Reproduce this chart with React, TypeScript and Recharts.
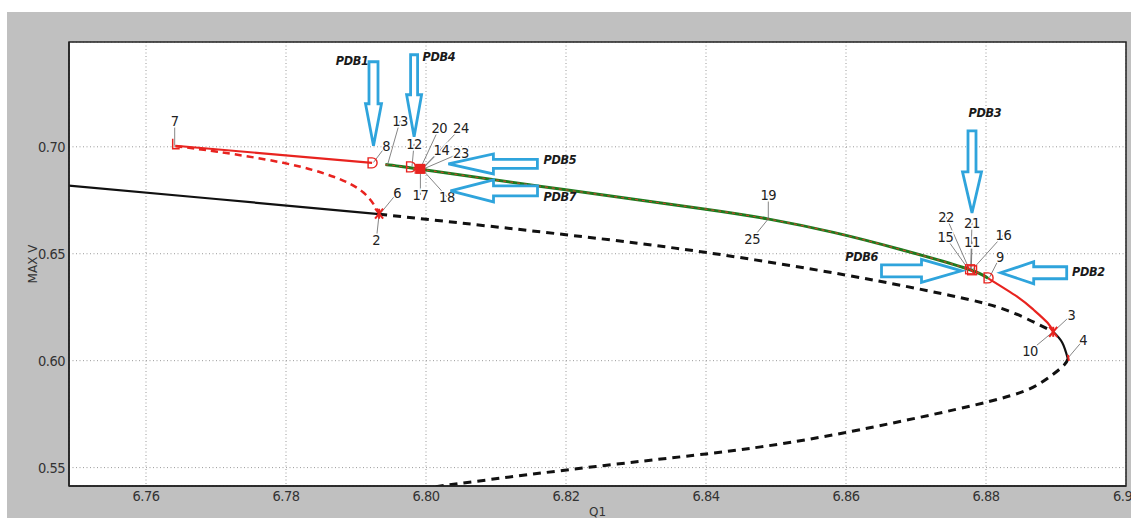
import React from 'react';
import {
  ComposedChart, Line, Scatter, XAxis, YAxis, CartesianGrid,
  ReferenceDot, ReferenceLine, ReferenceArea,
} from 'recharts';

// axes
const xTicks = [6.76, 6.78, 6.8, 6.82, 6.84, 6.86, 6.88, 6.9];
const xTickLabels = ['6.76', '6.78', '6.80', '6.82', '6.84', '6.86', '6.88', '6.9'];
const yTicks = [0.55, 0.6, 0.65, 0.7];
const yTickLabels = ['0.55', '0.60', '0.65', '0.70'];
const xDomain = [6.749, 6.9];
const yDomain = [0.5414, 0.749];

// branches (Q1, MAX V)
const blackSolidUpper = [
  { x: 6.745, y: 0.683 }, { x: 6.77, y: 0.6756 }, { x: 6.7933, y: 0.6685 },
];
const blackDashedUpper = [
  { x: 6.7933, y: 0.6685 }, { x: 6.8197, y: 0.659 }, { x: 6.8402, y: 0.6505 },
  { x: 6.86, y: 0.64 }, { x: 6.8749, y: 0.6305 }, { x: 6.883, y: 0.6235 },
  { x: 6.8896, y: 0.6135 },
];
const blackSolidNose = [
  { x: 6.8896, y: 0.6135 }, { x: 6.8909, y: 0.6084 }, { x: 6.8917, y: 0.6008 },
];
const blackDashedLower = [
  { x: 6.8917, y: 0.6008 }, { x: 6.8909, y: 0.5971 }, { x: 6.8878, y: 0.5896 },
  { x: 6.8802, y: 0.5807 }, { x: 6.8596, y: 0.5662 }, { x: 6.8478, y: 0.5597 },
  { x: 6.84, y: 0.5564 }, { x: 6.8201, y: 0.5489 }, { x: 6.8, y: 0.5405 },
];
const redDashed = [
  { x: 6.7642, y: 0.7003 }, { x: 6.7702, y: 0.6977 }, { x: 6.7796, y: 0.6925 },
  { x: 6.7868, y: 0.686 }, { x: 6.7911, y: 0.6785 }, { x: 6.7933, y: 0.669 },
];
const redSolidLeft = [{ x: 6.7642, y: 0.7005 }, { x: 6.7923, y: 0.6925 }];
const greenBranch = [
  { x: 6.7942, y: 0.6917 }, { x: 6.7992, y: 0.6895 }, { x: 6.8197, y: 0.68 },
  { x: 6.8392, y: 0.6712 }, { x: 6.8488, y: 0.6663 }, { x: 6.8582, y: 0.66 },
  { x: 6.8678, y: 0.652 }, { x: 6.8773, y: 0.643 }, { x: 6.8803, y: 0.6385 },
];
const redSolidRight = [
  { x: 6.8803, y: 0.6385 }, { x: 6.8845, y: 0.6298 }, { x: 6.8868, y: 0.6238 },
  { x: 6.8888, y: 0.6177 }, { x: 6.8896, y: 0.6135 },
];

// special points
const specialPoints = [
  { x: 6.7641, y: 0.7005, kind: 'L' },
  { x: 6.7923, y: 0.6925, kind: 'D' },
  { x: 6.7978, y: 0.6906, kind: 'D' },
  { x: 6.7992, y: 0.6897, kind: 'sq' },
  { x: 6.7933, y: 0.6687, kind: 'X' },
  { x: 6.8778, y: 0.6425, kind: 'cluster' },
  { x: 6.8803, y: 0.6387, kind: 'D' },
  { x: 6.8896, y: 0.6135, kind: 'X' },
  { x: 6.8917, y: 0.6008, kind: 'tick' },
];

// numbered labels: point, label position
const pointLabels = [
  { t: '7', px: 6.7641, py: 0.7005, lx: 6.7641, ly: 0.7122 },
  { t: '8', px: 6.7925, py: 0.6927, lx: 6.7943, ly: 0.7005 },
  { t: '13', px: 6.7945, py: 0.6915, lx: 6.7963, ly: 0.7122 },
  { t: '12', px: 6.798, py: 0.6908, lx: 6.7983, ly: 0.7014 },
  { t: '20', px: 6.7992, py: 0.6899, lx: 6.8019, ly: 0.7089 },
  { t: '24', px: 6.7995, py: 0.6899, lx: 6.805, ly: 0.7089 },
  { t: '14', px: 6.7995, py: 0.6897, lx: 6.8022, ly: 0.6986 },
  { t: '23', px: 6.7996, py: 0.6896, lx: 6.805, ly: 0.6972 },
  { t: '17', px: 6.7992, py: 0.6893, lx: 6.7992, ly: 0.6775 },
  { t: '18', px: 6.7995, py: 0.6893, lx: 6.803, ly: 0.6766 },
  { t: '6', px: 6.7935, py: 0.6689, lx: 6.7959, ly: 0.6785 },
  { t: '2', px: 6.7933, py: 0.6684, lx: 6.7929, ly: 0.6565 },
  { t: '19', px: 6.8489, py: 0.6663, lx: 6.8489, ly: 0.6775 },
  { t: '25', px: 6.8489, py: 0.6663, lx: 6.8466, ly: 0.657 },
  { t: '22', px: 6.8776, py: 0.6428, lx: 6.8743, ly: 0.6673 },
  { t: '21', px: 6.8778, py: 0.6428, lx: 6.878, ly: 0.6645 },
  { t: '15', px: 6.8775, py: 0.6427, lx: 6.8742, ly: 0.6579 },
  { t: '11', px: 6.8779, py: 0.6428, lx: 6.878, ly: 0.6556 },
  { t: '16', px: 6.8781, py: 0.6428, lx: 6.8825, ly: 0.6588 },
  { t: '9', px: 6.8805, py: 0.6389, lx: 6.882, ly: 0.6486 },
  { t: '3', px: 6.8896, py: 0.6135, lx: 6.8922, ly: 0.6214 },
  { t: '10', px: 6.8895, py: 0.6133, lx: 6.8863, ly: 0.6046 },
  { t: '4', px: 6.8917, py: 0.6012, lx: 6.8939, ly: 0.6097 },
];

// PDB arrows: tip position, direction
const pdbArrows = [
  { name: 'PDB1', x: 6.7925, y: 0.7005, dir: 'down', lx: 6.7871, ly: 0.7402 },
  { name: 'PDB4', x: 6.7983, y: 0.7047, dir: 'down', lx: 6.7995, ly: 0.7421 },
  { name: 'PDB5', x: 6.8032, y: 0.692, dir: 'left', lx: 6.8168, ly: 0.6939 },
  { name: 'PDB7', x: 6.8035, y: 0.6794, dir: 'left', lx: 6.8168, ly: 0.6766 },
  { name: 'PDB3', x: 6.878, y: 0.6691, dir: 'down', lx: 6.8775, ly: 0.7159 },
  { name: 'PDB6', x: 6.8765, y: 0.642, dir: 'right', lx: 6.8599, ly: 0.6486 },
  { name: 'PDB2', x: 6.8821, y: 0.6411, dir: 'left', lx: 6.8923, ly: 0.6415 },
];
// arrow geometry in pixels: length, head length, head half width, shaft half width
const arrowSize: Record<string, number[]> = {
  PDB1: [84, 42, 8, 4.5],
  PDB4: [82, 42, 7.5, 3.5],
  PDB5: [89, 45, 10, 4.5],
  PDB7: [87, 43, 11, 5],
  PDB3: [82, 41, 9.5, 4],
  PDB6: [80, 40, 11.5, 6],
  PDB2: [66, 33, 11, 6],
};

const NARROW = '"Liberation Sans Narrow", "DejaVu Sans Condensed", "Open Sans", sans-serif';
const RED = '#e8231f';
const ARROW = '#2fa4dc';

function Marker(props: any) {
  const { cx, cy, payload } = props;
  const k = payload.kind;
  if (k === 'L') {
    return <path d={`M${cx - 2},${cy - 7} L${cx - 2},${cy + 3} L${cx + 5},${cy + 3}`} stroke={RED} strokeWidth={1.5} fill="none" />;
  }
  if (k === 'D') {
    return <path d={`M${cx - 4},${cy - 5} L${cx},${cy - 5} A5 5 0 0 1 ${cx},${cy + 5} L${cx - 4},${cy + 5} Z`} stroke={RED} strokeWidth={1.4} fill="none" />;
  }
  if (k === 'sq') {
    return (
      <g>
        <rect x={cx - 5} y={cy - 5} width={10} height={10} fill={RED} />
        <rect x={cx - 6} y={cy - 4} width={10} height={9} fill={RED} opacity={0.7} />
      </g>
    );
  }
  if (k === 'X') {
    return (
      <g stroke={RED} strokeWidth={2}>
        <line x1={cx - 4} y1={cy - 5} x2={cx + 4} y2={cy + 5} />
        <line x1={cx + 4} y1={cy - 5} x2={cx - 4} y2={cy + 5} />
        <line x1={cx} y1={cy - 5} x2={cx} y2={cy + 5} />
      </g>
    );
  }
  if (k === 'cluster') {
    return (
      <g stroke={RED} strokeWidth={1.3} fill="none">
        <rect x={cx - 5} y={cy - 5} width={9} height={9} />
        <rect x={cx - 3} y={cy - 4} width={9} height={9} />
        <line x1={cx - 4} y1={cy - 4} x2={cx + 5} y2={cy + 5} />
      </g>
    );
  }
  return <line x1={cx} y1={cy - 4} x2={cx + 1} y2={cy + 2} stroke={RED} strokeWidth={2} />;
}

function arrowShape(name: string, dir: string) {
  return (p: any) => {
    const { cx, cy } = p;
    const [L, H, hw, sw] = arrowSize[name];
    // build pointing right, then rotate
    const pts = [
      [-L, -sw], [-H, -sw], [-H, -hw], [0, 0], [-H, hw], [-H, sw], [-L, sw],
    ];
    const rot = dir === 'down' ? 90 : dir === 'left' ? 180 : 0;
    return (
      <polygon
        points={pts.map((q) => q.join(',')).join(' ')}
        transform={`translate(${cx},${cy}) rotate(${rot})`}
        fill="#fff"
        stroke={ARROW}
        strokeWidth={2.8}
        strokeLinejoin="miter"
      />
    );
  };
}

const numText = (t: string) => (p: any) => (
  <text
    x={p.cx} y={p.cy} dy="0.35em" textAnchor="middle"
    fontFamily={NARROW} fontSize={14.5} letterSpacing={-0.4} fill="#222"
    stroke="#fff" strokeWidth={3} paintOrder="stroke"
  >{t}</text>
);

const pdbText = (t: string) => (p: any) => (
  <text
    x={p.cx} y={p.cy} dy="0.35em" textAnchor="start"
    fontFamily={NARROW} fontSize={12.5} fontWeight="bold" fontStyle="italic" fill="#1a1a1a"
    letterSpacing={-0.3}
  >{t}</text>
);

const tickStyle = { fill: '#333', fontSize: 14.5, fontFamily: NARROW, letterSpacing: -0.5 };

export default function App() {
  return (
    <div style={{ position: 'fixed', left: 0, top: 0, width: 1131, height: 518, background: '#fff', overflow: 'hidden' }}>
      <div style={{ position: 'absolute', left: 7, top: 12, width: 1124, height: 520, background: '#c0c0c0' }}>
        <ComposedChart width={1124} height={540} margin={{ top: 30, right: 5, left: 0, bottom: 26 }}>
          <CartesianGrid fill="#fff" stroke="#9a9a9a" strokeDasharray="1 2.5" />
          <XAxis
            dataKey="x" type="number" domain={xDomain} allowDataOverflow
            ticks={xTicks} tickFormatter={(v: number, i: number) => xTickLabels[i] ?? String(v)}
            height={40} tickSize={3} tickLine={false}
            axisLine={{ stroke: '#222', strokeWidth: 1.5 }}
            tick={tickStyle}
            label={{ value: 'Q1', position: 'insideBottom', offset: 10, fill: '#333', fontSize: 12, fontFamily: 'DejaVu Sans, sans-serif' }}
          />
          <YAxis
            type="number" domain={yDomain} allowDataOverflow
            ticks={yTicks} tickFormatter={(v: number, i: number) => yTickLabels[i] ?? String(v)}
            width={62} tickSize={2} tickLine={false}
            axisLine={{ stroke: '#222', strokeWidth: 1.5 }}
            tick={tickStyle}
            label={{ value: 'MAX V', angle: -90, position: 'insideLeft', offset: 26, fill: '#333', fontSize: 12, fontFamily: 'DejaVu Sans, sans-serif', style: { textAnchor: 'middle' } }}
          />

          <Line data={blackSolidUpper} dataKey="y" type="linear" stroke="#111" strokeWidth={2.2} dot={false} isAnimationActive={false} />
          <Line data={blackDashedUpper} dataKey="y" type="natural" stroke="#111" strokeWidth={3} strokeDasharray="8 6" dot={false} isAnimationActive={false} />
          <Line data={blackSolidNose} dataKey="y" type="natural" stroke="#111" strokeWidth={2.2} dot={false} isAnimationActive={false} />
          <Line data={blackDashedLower} dataKey="y" type="natural" stroke="#111" strokeWidth={3} strokeDasharray="8 6" dot={false} isAnimationActive={false} />
          <Line data={redDashed} dataKey="y" type="natural" stroke={RED} strokeWidth={2.5} strokeDasharray="7 5" dot={false} isAnimationActive={false} />
          <Line data={redSolidLeft} dataKey="y" type="linear" stroke={RED} strokeWidth={2.2} dot={false} isAnimationActive={false} />
          <Line data={greenBranch} dataKey="y" type="natural" stroke="#1d7a1d" strokeWidth={3} dot={false} isAnimationActive={false} />
          <Line data={greenBranch} dataKey="y" type="natural" stroke="#c2462a" strokeWidth={1.2} strokeDasharray="3 4" dot={false} isAnimationActive={false} />
          <Line data={redSolidRight} dataKey="y" type="natural" stroke={RED} strokeWidth={2.2} dot={false} isAnimationActive={false} />

          {pointLabels.map((l) => (
            <ReferenceLine
              key={'ll' + l.t}
              segment={[{ x: l.px, y: l.py }, { x: l.lx, y: l.ly }]}
              stroke="#666" strokeWidth={0.8}
            />
          ))}

          <Scatter data={specialPoints} dataKey="y" shape={Marker} isAnimationActive={false} />

          {pointLabels.map((l) => (
            <ReferenceDot key={'lt' + l.t} x={l.lx} y={l.ly} r={0} shape={numText(l.t)} />
          ))}

          {pdbArrows.map((a) => (
            <ReferenceDot key={'ar' + a.name} x={a.x} y={a.y} r={0} shape={arrowShape(a.name, a.dir)} />
          ))}
          {pdbArrows.map((a) => (
            <ReferenceDot key={'at' + a.name} x={a.lx} y={a.ly} r={0} shape={pdbText(a.name)} />
          ))}

          <ReferenceArea
            x1={xDomain[0]} x2={xDomain[1]} y1={yDomain[0]} y2={yDomain[1]}
            fill="none" stroke="#222" strokeWidth={1.5} fillOpacity={0}
          />
        </ComposedChart>
      </div>
    </div>
  );
}
